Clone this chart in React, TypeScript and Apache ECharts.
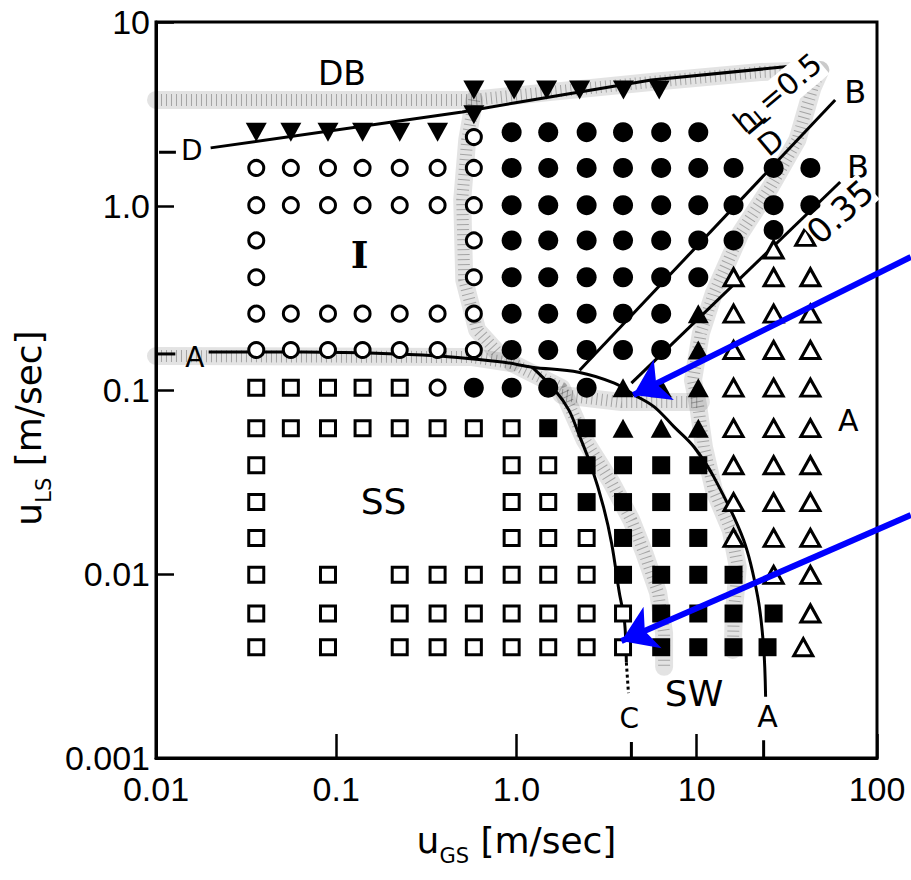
import React, { useEffect, useRef } from "react";
import * as echarts from "echarts";

// ---------- tick labels ----------
const xTickLabels = ["0.01", "0.1", "1.0", "10", "100"]; // 10^-2 .. 10^2
const yTickLabels = ["0.001", "0.01", "0.1", "1.0", "10"]; // 10^-3 .. 10^1

// ---------- experimental points: [uLS, list of uGS] ----------
type Row = [number, number[]];

const openCircleRows: Row[] = [
  [2.37, [0.58]],
  [1.61, [0.036, 0.056, 0.09, 0.14, 0.225, 0.365, 0.58]],
  [1.01, [0.036, 0.056, 0.09, 0.14, 0.225, 0.365, 0.58]],
  [0.65, [0.036, 0.58]],
  [0.41, [0.036, 0.58]],
  [0.26, [0.036, 0.056, 0.09, 0.14, 0.225, 0.365, 0.58]],
  [0.165, [0.036, 0.056, 0.09, 0.14, 0.225, 0.365, 0.58]],
  [0.103, [0.365]],
];

const filledCircleRows: Row[] = [
  [2.52, [0.94, 1.5, 2.45, 3.9, 6.35, 10.2]],
  [1.61, [0.94, 1.5, 2.45, 3.9, 6.35, 10.2, 16, 26.7, 42.7]],
  [1.01, [0.94, 1.5, 2.45, 3.9, 6.35, 10.2, 16, 26.7, 42.7]],
  [0.74, [26.7]],
  [0.65, [0.94, 1.5, 2.45, 3.9, 6.35, 10.2, 16]],
  [0.41, [0.94, 1.5, 2.45, 3.9, 6.35, 10.2]],
  [0.26, [0.94, 1.5, 2.45, 3.9, 6.35]],
  [0.165, [0.94, 1.5, 2.45, 3.9, 6.35]],
  [0.103, [0.58, 0.94, 1.5, 2.45]],
];

const openSquareRows: Row[] = [
  [0.103, [0.036, 0.056, 0.09, 0.14, 0.225]],
  [0.062, [0.036, 0.056, 0.09, 0.14, 0.225, 0.365, 0.58, 0.94]],
  [0.039, [0.036, 0.94, 1.5]],
  [0.0246, [0.036, 0.94, 1.5]],
  [0.0157, [0.036, 0.94, 1.5, 2.45]],
  [0.0099, [0.036, 0.09, 0.225, 0.365, 0.58, 0.94, 1.5, 2.45]],
  [0.0061, [0.036, 0.09, 0.225, 0.365, 0.58, 0.94, 1.5, 2.45, 3.9]],
  [0.004, [0.036, 0.09, 0.225, 0.365, 0.58, 0.94, 1.5, 2.45, 3.9]],
];

const filledSquareRows: Row[] = [
  [0.062, [1.5, 2.45]],
  [0.039, [2.45, 3.9, 6.35, 10.2]],
  [0.0246, [2.45, 3.9, 6.35, 10.2]],
  [0.0157, [3.9, 6.35, 10.2]],
  [0.0099, [3.9, 6.35, 10.2, 16]],
  [0.0061, [6.35, 10.2, 16, 26.7]],
  [0.004, [6.35, 10.2, 16, 24.7]],
];

const openTriangleRows: Row[] = [
  [0.68, [40]],
  [0.58, [26.7]],
  [0.41, [16, 26.7, 42.7]],
  [0.26, [16, 26.7, 42.7]],
  [0.165, [16, 26.7, 42.7]],
  [0.103, [16, 26.7, 42.7]],
  [0.062, [16, 26.7, 42.7]],
  [0.039, [16, 26.7, 42.7]],
  [0.0246, [16, 26.7, 42.7]],
  [0.0157, [16, 26.7, 42.7]],
  [0.0099, [26.7, 42.7]],
  [0.0061, [42.7]],
  [0.004, [39]],
];

const filledTriangleRows: Row[] = [
  [0.26, [10.2]],
  [0.165, [10.2]],
  [0.103, [3.9, 6.35, 10.2]],
  [0.062, [3.9, 6.35, 10.2]],
];

const downTriangleRows: Row[] = [
  [4.27, [0.58, 0.97, 1.47, 2.24, 3.92, 6.19]],
  [3.13, [0.58]],
  [2.52, [0.036, 0.056, 0.09, 0.14, 0.225, 0.365]],
];

// ---------- transition boundaries [uGS, uLS] ----------
const lineD: [number, number][] = [[0.0201, 2.07], [0.5, 3.24], [0.969, 3.63], [5.59, 4.84], [39.1, 5.84]];
const dashD: [number, number][] = [[0.0104, 1.96], [0.0129, 1.96]];
const dashA: [number, number][] = [[0.0102, 0.157], [0.0128, 0.157]];
const lineA: [number, number][] = [
  [0.0196, 0.161], [0.0656, 0.161], [0.301, 0.155], [0.832, 0.142], [1.22, 0.133],
  [2.21, 0.125], [3.49, 0.109], [4.51, 0.094], [5.81, 0.081], [7.49, 0.063],
  [9.66, 0.049], [12.45, 0.0336], [18.2, 0.0153], [21.8, 0.0075], [23.5, 0.004], [24.1, 0.00215],
];
const tickA: [number, number][] = [[23.5, 0.001], [23.5, 0.00125]];
const lineC: [number, number][] = [
  [1.22, 0.133], [1.63, 0.1], [1.95, 0.078], [2.21, 0.058], [2.61, 0.038], [3.04, 0.0231],
  [3.37, 0.0147], [3.72, 0.0079], [3.97, 0.0056], [4.07, 0.0033],
];
const lineCTail: [number, number][] = [[4.07, 0.0033], [4.18, 0.00225]];
const tickC: [number, number][] = [[4.34, 0.001], [4.34, 0.00122]];
const lineB05: [number, number][] = [[2.24, 0.128], [58.6, 3.77]];
const lineB035: [number, number][] = [[4.34, 0.109], [62.5, 1.35]];

// ---------- stippled transition bands ----------
const bandDB: [number, number][] = [[0.01, 3.77], [0.568, 3.77], [1.57, 4.17], [5.59, 4.72], [22.6, 5.35], [48.5, 5.48]];
const bandRight: [number, number][] = [
  [48.5, 5.48], [43.8, 4.37], [36.2, 2.29], [25.7, 1.27], [17.5, 0.713], [12.45, 0.336],
  [10.55, 0.204], [9.53, 0.113], [10.2, 0.081], [10.96, 0.049], [12.45, 0.0286],
  [15.45, 0.0173], [16.9, 0.0109], [16.05, 0.00614], [15.85, 0.00386],
];
const bandI: [number, number][] = [[0.583, 3.77], [0.533, 2.29], [0.5, 1.08], [0.513, 0.396], [0.605, 0.212], [0.781, 0.161]];
const bandA: [number, number][] = [[0.01, 0.153], [0.568, 0.151], [0.944, 0.14]];
const bandC: [number, number][] = [
  [0.944, 0.14], [1.78, 0.1026], [2.39, 0.0535], [3.37, 0.0313], [4.34, 0.0196],
  [5.12, 0.013], [6.11, 0.0079], [6.59, 0.00477], [6.59, 0.00313],
];
const bandMid: [number, number][] = [[1.78, 0.094], [3.82, 0.086], [10.55, 0.086]];

// ---------- annotation arrows (blue) ----------
const arrows: [number, number][][] = [
  [[154, 0.528], [4.45, 0.094]],
  [[154, 0.0209], [3.82, 0.00432]],
];

// ---------- text annotations ----------
const regionText = ["DB", "D", "A", "I", "SS", "SW", "A", "C", "A", "B", "B"];
const regionAt: [number, number][] = [
  [0.1076, 5.28], [0.0158, 2.01], [0.0164, 0.151], [0.135, 0.548], [0.183, 0.0249],
  [9.66, 0.00225], [69.2, 0.068], [4.23, 0.00163], [24.7, 0.00169], [75.6, 4.16], [78.5, 1.63],
];
const regionSize = [33, 28, 28, 38, 36, 36, 30, 28, 30, 32, 32];
const hRatioText = "0.5";
const hRatioAt: [number, number] = [28.5, 4.05];
const hDenomAt: [number, number] = [24.1, 2.4];
const h035Text = "0.35";
const h035At: [number, number] = [62.5, 0.93];

const rowsToPoints = (rows: Row[]) => rows.flatMap(([y, xs]) => xs.map((x) => [x, y]));

const SANS = "'Liberation Sans', Arial, sans-serif";
const DJ = "'DejaVu Sans', sans-serif";
const SERIF = "'DejaVu Serif', serif";

export default function App() {
  const ref = useRef<HTMLDivElement>(null);

  useEffect(() => {
    if (!ref.current) return;
    const chart = echarts.init(ref.current, undefined, { renderer: "svg" });

    const band = (data: [number, number][]) => [
      {
        type: "line",
        data,
        symbol: "none",
        silent: true,
        z: 1,
        lineStyle: { width: 18, color: "rgba(0,0,0,0.11)", cap: "round", join: "round" },
      },
      {
        type: "line",
        data,
        symbol: "none",
        silent: true,
        z: 1,
        lineStyle: { width: 12, color: "rgba(0,0,0,0.28)", type: [1, 4], join: "round" },
      },
    ];
    const curve = (data: [number, number][], smooth: number | boolean = false, dotted = false) => ({
      type: "line",
      data,
      symbol: "none",
      silent: true,
      smooth,
      z: 3,
      lineStyle: { width: 3, color: "#000", type: dotted ? "dotted" : "solid" },
    });
    const marker = (rows: Row[], symbol: string, size: number | number[], open: boolean, rotate = 0) => ({
      type: "scatter",
      data: rowsToPoints(rows),
      symbol,
      symbolSize: size,
      symbolRotate: rotate,
      z: 5,
      itemStyle: open
        ? { color: "#fff", borderColor: "#000", borderWidth: 3, opacity: 1 }
        : { color: "#000", opacity: 1 },
    });

    const textItems = regionText.map((t, i) => ({
      value: regionAt[i],
      label: {
        formatter: t,
        fontSize: regionSize[i],
        fontFamily: t === "I" ? SERIF : DJ,
        fontWeight: t === "I" ? "bold" : "normal",
        color: "#000",
        opacity: 1,
      },
    }));

    const titleRich = {
      u: { fontSize: 36, fontFamily: DJ, color: "#000", lineHeight: 42, verticalAlign: "top" },
      s: { fontSize: 21, fontFamily: DJ, color: "#000", lineHeight: 24, padding: [25, 0, 0, 0] },
    };

    const option: any = {
      animation: false,
      backgroundColor: "#fff",
      grid: { left: 152, right: 34, top: 22, bottom: 122, show: true, borderColor: "#000", borderWidth: 3 },
      xAxis: {
        type: "log",
        logBase: 10,
        min: 0.01,
        max: 100,
        name: "{u|u}{s|GS}{u| [m/sec]}",
        nameLocation: "middle",
        nameGap: 64,
        nameTextStyle: { rich: titleRich },
        axisLine: { show: true, lineStyle: { color: "#000", width: 3 } },
        axisTick: { show: true, inside: true, length: 24, lineStyle: { color: "#000", width: 2.5 } },
        minorTick: { show: false },
        splitLine: { show: false },
        axisLabel: {
          formatter: (v: number) => xTickLabels[Math.round(Math.log10(v)) + 2] ?? "",
          fontSize: 34,
          fontFamily: SANS,
          color: "#000",
          margin: 14,
          showMinLabel: true,
          showMaxLabel: true,
        },
      },
      yAxis: {
        type: "log",
        logBase: 10,
        min: 0.001,
        max: 10,
        name: "{u|u}{s|LS}{u| [m/sec]}",
        nameLocation: "middle",
        nameRotate: 90,
        nameGap: 98,
        nameTextStyle: { padding: [0, 76, 0, 0], rich: titleRich },
        axisLine: { show: true, lineStyle: { color: "#000", width: 3 } },
        axisTick: { show: true, inside: true, length: 18, lineStyle: { color: "#000", width: 2.5 } },
        minorTick: { show: false },
        splitLine: { show: false },
        axisLabel: {
          formatter: (v: number) => yTickLabels[Math.round(Math.log10(v)) + 3] ?? "",
          fontSize: 34,
          fontFamily: SANS,
          color: "#000",
          margin: 6,
          showMinLabel: true,
          showMaxLabel: true,
        },
      },
      series: [
        ...band(bandDB),
        ...band(bandRight),
        ...band(bandI),
        ...band(bandA),
        ...band(bandC),
        ...band(bandMid),
        curve(lineD),
        curve(dashD),
        curve(dashA),
        curve(lineA, 0.35),
        curve(tickA),
        curve(lineC, 0.35),
        curve(lineCTail, false, true),
        curve(tickC),
        curve(lineB05),
        curve(lineB035),
        marker(openCircleRows, "circle", 15, true),
        marker(filledCircleRows, "circle", 20, false),
        marker(openSquareRows, "rect", 15, true),
        marker(filledSquareRows, "rect", 18, false),
        marker(openTriangleRows, "triangle", [19, 17], true),
        marker(filledTriangleRows, "triangle", [21, 19], false),
        marker(downTriangleRows, "triangle", [21, 19], false, 180),
        {
          type: "scatter",
          data: textItems,
          symbol: "circle",
          symbolSize: 1,
          z: 6,
          silent: true,
          itemStyle: { color: "rgba(0,0,0,0)", opacity: 1 },
          label: { show: true, position: "inside", color: "#000" },
        },
        {
          type: "scatter",
          symbol: "circle",
          symbolSize: 1,
          z: 6,
          silent: true,
          itemStyle: { color: "rgba(0,0,0,0)", opacity: 1 },
          data: [
            {
              value: hRatioAt,
              label: {
                show: true,
                position: "inside",
                rotate: 40,
                formatter: "{h|h}{s|L}{h|=" + hRatioText + "}",
                backgroundColor: "#fff",
                rich: {
                  h: { fontSize: 30, fontFamily: DJ, color: "#000", lineHeight: 34, verticalAlign: "top" },
                  s: { fontSize: 22, fontFamily: DJ, color: "#000", lineHeight: 24, padding: [12, 0, 0, 0] },
                },
              },
            },
            {
              value: hDenomAt,
              label: {
                show: true,
                position: "inside",
                rotate: 40,
                formatter: "{b|—}\n{d|D}",
                rich: {
                  b: { fontSize: 26, fontFamily: DJ, color: "#000", lineHeight: 16, fontWeight: "bold" },
                  d: { fontSize: 30, fontFamily: DJ, color: "#000", lineHeight: 30 },
                },
              },
            },
            {
              value: h035At,
              label: {
                show: true,
                position: "inside",
                rotate: 42,
                formatter: h035Text,
                fontSize: 34,
                fontFamily: DJ,
                color: "#000",
                backgroundColor: "#fff",
              },
            },
          ],
        },
        {
          type: "lines",
          coordinateSystem: "cartesian2d",
          clip: false,
          silent: true,
          z: 8,
          symbol: ["none", "arrow"],
          symbolSize: 34,
          lineStyle: { color: "#0000ff", width: 6, opacity: 1 },
          itemStyle: { color: "#0000ff" },
          data: arrows.map((c) => ({ coords: c })),
        },
      ],
    };

    chart.setOption(option);
    return () => chart.dispose();
  }, []);

  return (
    <div
      ref={ref}
      style={{ position: "fixed", left: 0, top: 0, width: 911, height: 880, background: "#fff" }}
    />
  );
}
